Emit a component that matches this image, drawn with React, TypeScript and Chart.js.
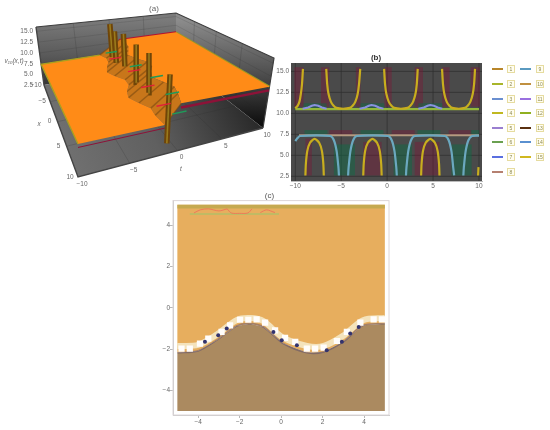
import React, { useEffect, useRef } from "react";
import { Chart, registerables } from "chart.js";

Chart.register(...registerables);

const FONT = "'Liberation Sans', Arial, sans-serif";
const TICK = "#666";

// ---------- panel (a) data ----------
const xRange = [-10, 10];
const tRange = [-10, 10];
const vRange = [2.6, 16];
const vTicks = [2.5, 5, 7.5, 10, 12.5, 15];
const xTicks3 = [-10, -5, 0, 5, 10];
const tTicks3 = [-10, -5, 0, 5, 10];
const lowerPlane = 7.4;
const upperPlane = 10.5;
const ridgeX = [-10, -8.5, -7, -5.5, -4, -2.5, -1, 0.5, 2, 3.5, 5, 6.5, 8, 10];
const ridgeLowT = [-1.8, -1.3, -1.5, -2.2, -2.7, -2.2, -1.4, -1.5, -2.3, -2.7, -2.1, -1.4, -1.6, -1.5];
const ridgeUpT = [1.2, 1.6, 1.4, 0.8, 0.2, 0.7, 1.5, 1.4, 0.6, 0.1, 0.7, 1.2, 0.8, 0.1];
const spikeX = [-8.6, -6.4, -4.8, 0.2, 3.2, 9.4];
const spikeT = [-0.4, -0.6, 0, -0.4, -0.2, -0.9];
const spikeTop = [15.6, 14.9, 15, 15.3, 15.2, 15.2];
const spikeBase = [7.4, 7.4, 7.4, 7.4, 7.4, 3.6];
const markX = [-8, -5, -3, -1, 1, 3, 5, 7, 8.5];
const markT = [-1.5, -2, 0, -1, 1, -1, 1, -1, 0];
const markV = [9, 9.5, 8.5, 9, 8.5, 8.5, 8, 8, 7.5];
const markColor = ["#1f9a5a", "#e0203a", "#1f9a5a", "#e0203a", "#1f9a5a", "#e0203a", "#1f9a5a", "#e0203a", "#1f9a5a"];

// ---------- panel (b) data ----------
const yellowUX = [-10, -9.75, -9.55, -9.4, -9.27, -9.17, null, -6.63, -6.53, -6.38, -6.13, -5.83, -5.53, -4.8, -4.06, -3.76, -3.46, -3.21, -3.06, -2.93, null, -0.33, -0.23, -0.08, 0.17, 0.47, 0.77, 1.5, 2.23, 2.53, 2.83, 3.08, 3.23, 3.33, null, 5.98, 6.08, 6.23, 6.48, 6.78, 7.08, 7.8, 8.47, 8.77, 9.07, 9.32, 9.47, 9.57];
const yellowUY = [10.6, 10.9, 11.4, 12.3, 13.5, 15.3, null, 15.3, 13.5, 12.3, 11.4, 10.9, 10.65, 10.55, 10.65, 10.9, 11.4, 12.3, 13.5, 15.3, null, 15.3, 13.5, 12.3, 11.4, 10.9, 10.65, 10.55, 10.65, 10.9, 11.4, 12.3, 13.5, 15.3, null, 15.3, 13.5, 12.3, 11.4, 10.9, 10.65, 10.55, 10.65, 10.9, 11.4, 12.3, 13.5, 15.3];
const yellowArchX = [-8.9, -8.85, -8.7, -8.4, -7.9, -7.4, -7.1, -6.95, -6.9, null, -2.6, -2.55, -2.4, -2.1, -1.6, -1.1, -0.8, -0.65, -0.6, null, 3.7, 3.75, 3.9, 4.2, 4.7, 5.2, 5.5, 5.65, 5.7, null, 9.9, 9.95];
const yellowArchY = [2.6, 4, 5.5, 6.5, 6.95, 6.5, 5.5, 4, 2.6, null, 2.6, 4, 5.5, 6.5, 6.95, 6.5, 5.5, 4, 2.6, null, 2.6, 4, 5.5, 6.5, 6.95, 6.5, 5.5, 4, 2.6, null, 2.6, 3.6];
const blueX = [-10, -9.8, -9.5, -6.2, -5.8, -5.5, -5.3, -5.25, null, -4.25, -4.2, -4, -3.7, -3.3, 0.1, 0.5, 0.8, 1, 1.05, null, 2.05, 2.1, 2.3, 2.6, 3, 6.3, 6.7, 7, 7.2, 7.3, null, 8.3, 8.35, 8.55, 8.85, 9.25, 10];
const blueY = [6.7, 7, 7.3, 7.3, 6.8, 5.5, 3.5, 2.6, null, 2.6, 3.5, 5.5, 6.8, 7.3, 7.3, 6.8, 5.5, 3.5, 2.6, null, 2.6, 3.5, 5.5, 6.8, 7.3, 7.3, 6.8, 5.5, 3.5, 2.6, null, 2.6, 3.5, 5.5, 6.8, 7.3, 7.35];
const tanX = [-9.6, 10];
const tanY = [7.4, 7.4];
const greenX = [-10, 10];
const greenY = [10.5, 10.5];
const bumpX = [-9.2, -8.6, -8.2, -7.9, -7.5, -7.1, -6.6, null, -3, -2.4, -2, -1.7, -1.3, -0.9, -0.4, null, 3.4, 4, 4.4, 4.7, 5.1, 5.5, 6];
const bumpY = [10.55, 10.7, 10.9, 11, 10.9, 10.7, 10.55, null, 10.55, 10.7, 10.9, 11, 10.9, 10.7, 10.55, null, 10.55, 10.7, 10.9, 11, 10.9, 10.7, 10.55];
// [x0, x1, y0, y1] of the tinted blocks on the dark panel
const redBlocks = [
  [-10.1, -9.1, 10.8, 15.5], [-7.2, -6.3, 10.8, 15.5], [-3.4, -2.9, 10.8, 15.5], [-0.3, 0.5, 10.8, 15.5],
  [3.0, 3.9, 10.8, 15.5], [6.0, 6.8, 10.8, 15.5], [9.1, 10.1, 10.8, 15.5],
  [-6.3, -3.8, 7.4, 8.0], [0.5, 3.0, 7.4, 8.0], [6.7, 9.2, 7.4, 8.0],
  [-8.9, -8.2, 2.6, 7], [-2.6, -0.6, 2.6, 6.6], [3.0, 5.7, 2.6, 6.6],
];
const greenBlocks = [
  [-9.1, -6.6, 10.5, 11.2], [-2.9, -0.3, 10.5, 11.2], [3.4, 6, 10.5, 11.2],
  [-9, -6.5, 7.4, 8.0], [-2.9, -0.4, 7.4, 8.0], [3.3, 5.8, 7.4, 8.0], [9.1, 10, 7.4, 8.0],
  [-5.8, -3.5, 2.6, 6.3], [0.7, 2.7, 2.6, 6.3], [7, 9.2, 2.6, 6.3],
];
const xTicksB = [-10, -5, 0, 5, 10];
const yTicksB = [2.5, 5, 7.5, 10, 12.5, 15];
const legendLabels = ["1", "2", "3", "4", "5", "6", "7", "8", "9", "10", "11", "12", "13", "14", "15"];
const legendColors = ["#b8862a", "#a8b52a", "#6a8fd0", "#c0b820", "#9a7fd0", "#6aa050", "#5a6fe0", "#b58070", "#5a9ac0", "#c09040", "#9a70e0", "#90b020", "#5a3010", "#5a90d0", "#d0b820"];

// ---------- panel (c) data ----------
const edgeX = [-5, -4, -3.1, -2.15, -1.5, -0.85, 0.1, 1.25, 2.05, 3, 3.95, 5];
const edgeY = [-2.18, -2.09, -1.57, -0.88, -0.77, -0.93, -1.73, -2.18, -2.14, -1.65, -0.85, -0.77];
const paleY = [-1.85, -1.8, -1.3, -0.6, -0.5, -0.65, -1.45, -1.85, -1.85, -1.35, -0.6, -0.5];
const squareX = [-4.8, -4.4, -3.91, -3.51, -2.87, -2.46, -1.98, -1.58, -1.18, -0.77, -0.29, 0.19, 0.68, 1.24, 1.64, 2.05, 2.69, 3.17, 3.82, 4.46, 4.86];
const squareY = [-1.98, -1.98, -1.74, -1.5, -1.17, -0.85, -0.58, -0.58, -0.56, -0.72, -1.09, -1.46, -1.65, -1.98, -1.98, -1.93, -1.61, -1.17, -0.72, -0.56, -0.56];
const navyX = [-3.67, -3.03, -2.62, -0.37, 0.03, 0.76, 2.2, 2.93, 3.33, 3.74];
const navyY = [-1.65, -1.33, -1.01, -1.17, -1.57, -1.82, -2.06, -1.65, -1.25, -0.93];
const topLineX = [-4.4, -0.1];
const topLineY = [4.55, 4.55];
const redArcX = [-4.2, -3.9, -3.5, -3, -2.6, null, -2.6, -2.4, -2, -1.6, -1.4, null, -1, -0.7, -0.3];
const redArcY = [4.6, 4.75, 4.8, 4.7, 4.8, null, 4.8, 4.6, 4.58, 4.6, 4.8, null, 4.62, 4.75, 4.62];
const cTicks = [-4, -2, 0, 2, 4];

// ---------- helpers ----------
function quad(q: number[][]) {
  const [[x0, y0], [x1, y1], [x2, y2], [x3, y3]] = q;
  const dx1 = x1 - x2, dx2 = x3 - x2, sx = x0 - x1 + x2 - x3;
  const dy1 = y1 - y2, dy2 = y3 - y2, sy = y0 - y1 + y2 - y3;
  const den = dx1 * dy2 - dx2 * dy1;
  const g = (sx * dy2 - dx2 * sy) / den;
  const h = (dx1 * sy - sx * dy1) / den;
  const a = x1 - x0 + g * x1, b = x3 - x0 + h * x3;
  const d = y1 - y0 + g * y1, e = y3 - y0 + h * y3;
  return (u: number, w: number) => {
    const z = g * u + h * w + 1;
    return [(a * u + b * w + x0) / z, (d * u + e * w + y0) / z];
  };
}
const floorQ = quad([[44, 85], [78, 177], [263, 128], [176, 60]]);
const roofQ = quad([[36, 27], [78, 85], [274, 58], [176, 13]]);
function project(x: number, t: number, v: number) {
  const u = (x - xRange[0]) / (xRange[1] - xRange[0]);
  const w = (t - tRange[0]) / (tRange[1] - tRange[0]);
  const f = (v - vRange[0]) / (vRange[1] - vRange[0]);
  const a = floorQ(u, w), b = roofQ(u, w);
  return { x: a[0] + (b[0] - a[0]) * f, y: a[1] + (b[1] - a[1]) * f };
}
const zip = (xs: (number | null)[], ys: (number | null)[]) =>
  xs.map((x, i) => ({ x: x === null ? NaN : x, y: ys[i] === null ? NaN : ys[i] }));
const shape = (data: any[], color: any) => ({
  type: "scatter", data, showLine: true, fill: "shape", backgroundColor: color,
  borderWidth: 0, pointRadius: 0, tension: 0,
});
const line = (data: any[], color: string, width: number, extra: any = {}) => ({
  type: "scatter", data, showLine: true, fill: false, borderColor: color,
  borderWidth: width, pointRadius: 0, tension: 0, ...extra,
});
const gradient = (stops: string[], x0: number, y0: number, x1: number, y1: number) => (c: any) => {
  const g = c.chart.ctx.createLinearGradient(x0, y0, x1, y1);
  stops.forEach((s, i) => g.addColorStop(i / (stops.length - 1), s));
  return g;
};
// Chart.js paints dataset 0 last, so the painter's list is handed over reversed.
const painted = (ds: any[]) => ds.slice().reverse();

function panelA() {
  const [x0, x1] = xRange, [t0, t1] = tRange, [v0, v1] = vRange;
  const ds: any[] = [];
  ds.push(shape([project(x0, t0, v0), project(x0, t1, v0), project(x0, t1, v1), project(x0, t0, v1)], gradient(["#7a7a7a", "#5a5a5a", "#2f2f2f"], 0, 20, 0, 90)));
  ds.push(shape([project(x0, t1, v0), project(x1, t1, v0), project(x1, t1, v1), project(x0, t1, v1)], gradient(["#8c8c8c", "#505050", "#0d0d0d"], 0, 20, 0, 125)));
  ds.push(shape([project(x0, t0, v0), project(x1, t0, v0), project(x1, t1, v0), project(x0, t1, v0)], gradient(["#727272", "#606060", "#2b2b2b"], 60, 170, 240, 90)));
  const grid = "rgba(40,40,40,0.28)";
  [-5, 0, 5].forEach((k) => {
    ds.push(line([project(x0, k, v0), project(x0, k, v1)], grid, 0.7));
    ds.push(line([project(k, t1, v0), project(k, t1, v1)], grid, 0.7));
    ds.push(line([project(k, t0, v0), project(k, t1, v0)], grid, 0.7));
    ds.push(line([project(x0, k, v0), project(x1, k, v0)], grid, 0.7));
  });
  vTicks.slice(1).forEach((v) => {
    ds.push(line([project(x0, t0, v), project(x0, t1, v), project(x1, t1, v)], grid, 0.5));
  });
  ds.push(line([project(x0, t0, v1), project(x0, t1, v1), project(x1, t1, v1), project(x1, t1, v0)], "#3d3d3d", 1.2));
  ds.push(line([project(x0, t0, v1), project(x0, t0, v0), project(x1, t0, v0), project(x1, t1, v0)], "#444", 1.4));

  const ridgeUp = ridgeX.map((x, i) => project(x, ridgeUpT[i], upperPlane));
  const ridgeLow = ridgeX.map((x, i) => project(x, ridgeLowT[i], lowerPlane));
  const lastUp = ridgeUpT[ridgeUpT.length - 1];
  const lastLow = ridgeLowT[ridgeLowT.length - 1];
  // upper plane and its crimson underside
  ds.push(line([project(x1, lastUp, upperPlane - 0.7), project(x1, t1, upperPlane - 0.7)], "#8d1238", 2.4));
  ds.push(line([project(x0, t1, upperPlane), project(x1, t1, upperPlane)], "#9c9a22", 2));
  ds.push(line([project(x0, ridgeUpT[0], upperPlane), project(x0, t1, upperPlane)], "#b5122f", 2));
  ds.push(shape([...ridgeUp, project(x1, t1, upperPlane), project(x0, t1, upperPlane)], "#ff8b17"));
  // slope between planes, with its dark hatching
  ds.push(shape([...ridgeUp, ...[...ridgeLow].reverse()], "#c8761a"));
  ridgeX.forEach((_, i) => ds.push(line([ridgeLow[i], ridgeUp[i]], "rgba(122,74,16,0.6)", 1.4)));
  // lower plane and its olive rim
  ds.push(shape([project(x0, t0, lowerPlane), project(x1, t0, lowerPlane), ...[...ridgeLow].reverse()], "#ff8b17"));
  ds.push(line([project(x0, ridgeLowT[0], lowerPlane), project(x0, t0, lowerPlane), project(x1, t0, lowerPlane)], "#a9a020", 1.4));
  ds.push(line([project(x1, t0, lowerPlane - 0.5), project(x1, lastLow, lowerPlane - 0.5)], "#8d1238", 1));
  // spikes
  spikeX.forEach((x, i) => {
    const a = project(x, spikeT[i], spikeBase[i]), b = project(x, spikeT[i], spikeTop[i]);
    ds.push(line([a, b], "#6f4508", 5.5));
    ds.push(line([a, b], "#9a7a1c", 1.6));
  });
  // chroma marks
  markX.forEach((x, i) => {
    ds.push(line([project(x, markT[i], markV[i]), project(x, markT[i] + 1.6, markV[i])], markColor[i], 1.4));
  });
  const labels = {
    id: "labelsA",
    afterDatasetsDraw(chart: any) {
      const c = chart.ctx;
      c.save();
      c.fillStyle = TICK;
      c.font = `6.5px ${FONT}`;
      c.textBaseline = "middle";
      c.textAlign = "right";
      vTicks.forEach((v) => {
        const p = project(x0, t0, v);
        c.fillText(v.toFixed(1), 33, p.y);
      });
      c.textAlign = "center";
      xTicks3.forEach((x) => {
        const p = project(x, t0, v0);
        c.fillText(String(x).replace("-", "\u2212"), p.x - 8, p.y + 0);
      });
      tTicks3.forEach((t) => {
        const p = project(x1, t, v0);
        c.fillText(String(t).replace("-", "\u2212"), p.x + 4, p.y + 7);
      });
      c.font = `italic 6.5px ${FONT}`;
      c.fillText("x", 39, 124);
      c.fillText("t", 181, 169);
      c.fillText("v\u2081\u2080(x,t)", 14, 61);
      c.font = `8px ${FONT}`;
      c.fillText("(a)", 154, 9);
      c.restore();
    },
  };
  return {
    data: { datasets: painted(ds) },
    options: {
      animation: false, responsive: false, maintainAspectRatio: false,
      layout: { padding: 0 },
      plugins: { legend: { display: false }, tooltip: { enabled: false }, title: { display: false } },
      scales: {
        x: { type: "linear", display: false, min: 0, max: 290 },
        y: { type: "linear", display: false, min: 0, max: 190, reverse: true },
      },
    },
    plugins: [labels],
  };
}

const block = (b: number[]) => [{ x: b[0], y: b[2] }, { x: b[1], y: b[2] }, { x: b[1], y: b[3] }, { x: b[0], y: b[3] }];
const fixTicks = (vals: number[]) => (s: any) => { s.ticks = vals.map((value) => ({ value })); };

function panelB() {
  const ds: any[] = [];
  redBlocks.forEach((b) => ds.push(shape(block(b), "rgba(125,25,55,0.42)")));
  greenBlocks.forEach((b) => ds.push(shape(block(b), "rgba(15,105,70,0.5)")));
  ds.push(line(zip(greenX, greenY), "#93b83a", 2.2));
  ds.push(line(zip(bumpX, bumpY), "#8a90e0", 2));
  ds.push(line(zip(tanX, tanY), "#b59a80", 2));
  ds.push(line(zip(blueX, blueY), "#6ba8bf", 2.2, { tension: 0.25 }));
  ds.push(line(zip(yellowUX, yellowUY), "#c8ae1e", 2.2, { tension: 0.25 }));
  ds.push(line(zip(yellowArchX, yellowArchY), "#c8ae1e", 2.2, { tension: 0.25 }));
  const bg = {
    id: "bgB",
    beforeDatasetsDraw(chart: any) {
      const { ctx, chartArea: a, scales } = chart;
      ctx.save();
      ctx.fillStyle = "#4a4a4a";
      ctx.fillRect(a.left, a.top, a.width, a.height);
      ctx.strokeStyle = "#2e2e2e";
      ctx.lineWidth = 0.7;
      xTicksB.forEach((v) => { const p = scales.x.getPixelForValue(v); ctx.beginPath(); ctx.moveTo(p, a.top); ctx.lineTo(p, a.bottom); ctx.stroke(); });
      yTicksB.forEach((v) => { const p = scales.y.getPixelForValue(v); ctx.beginPath(); ctx.moveTo(a.left, p); ctx.lineTo(a.right, p); ctx.stroke(); });
      ctx.restore();
    },
  };
  return {
    data: { datasets: painted(ds) },
    options: {
      animation: false, responsive: false, maintainAspectRatio: false,
      layout: { padding: { right: 6, top: 0, left: 0, bottom: 0 } },
      plugins: {
        legend: { display: false }, tooltip: { enabled: false },
        title: { display: true, text: "(b)", color: "#333", font: { family: FONT, size: 8, weight: "bold", lineHeight: 1.2 }, padding: { top: 0, bottom: 0.4 } },
      },
      scales: {
        x: {
          type: "linear", min: -10.47, max: 10.33, afterBuildTicks: fixTicks(xTicksB),
          grid: { display: false, tickLength: 0, drawTicks: false }, border: { color: "#bbb" },
          ticks: { color: TICK, font: { family: FONT, size: 6.5 }, padding: 1, maxRotation: 0, callback: (v: number) => String(v).replace("-", "\u2212") },
          afterFit: (s: any) => { s.height = 14; },
        },
        y: {
          type: "linear", min: 1.94, max: 16, afterBuildTicks: fixTicks(yTicksB),
          grid: { display: false, tickLength: 0, drawTicks: false }, border: { color: "#bbb" },
          ticks: { color: TICK, font: { family: FONT, size: 6.5 }, padding: 2, callback: (v: number) => v.toFixed(1) },
          afterFit: (s: any) => { s.width = 21; },
        },
      },
    },
    plugins: [bg],
  };
}

function panelC() {
  const edge = zip(edgeX, edgeY);
  const pale = zip(edgeX, paleY);
  const ds: any[] = [];
  ds.push(shape([{ x: -5, y: 5 }, { x: 5, y: 5 }, ...[...edge].reverse()], "#e7ae5e"));
  ds.push(shape([{ x: -5, y: 5 }, { x: 5, y: 5 }, { x: 5, y: 4.82 }, { x: -5, y: 4.82 }], "#c5a950"));
  ds.push(line(pale, "rgba(246,236,205,0.85)", 6, { tension: 0.3 }));
  ds.push(shape([...edge, { x: 5, y: -5 }, { x: -5, y: -5 }], "#ab8a60"));
  ds.push(line(edge, "rgba(70,60,110,0.4)", 1.6, { tension: 0.3 }));
  ds.push({ type: "scatter", data: zip(squareX, squareY), pointStyle: "rect", pointRadius: 4.4, backgroundColor: "#fffdfb", borderWidth: 0, showLine: false });
  ds.push({ type: "scatter", data: zip(navyX, navyY), pointStyle: "circle", pointRadius: 2, backgroundColor: "#33336e", borderWidth: 0, showLine: false });
  ds.push(line(zip(topLineX, topLineY), "#9ac66a", 1.2));
  ds.push(line(zip(redArcX, redArcY), "#ef7a5a", 1, { tension: 0.3 }));
  const frame = {
    id: "frameC",
    afterDatasetsDraw(chart: any) {
      const { ctx, chartArea: a } = chart;
      ctx.save();
      ctx.strokeStyle = "#dcd6d8";
      ctx.lineWidth = 1;
      ctx.strokeRect(a.left, a.top, a.width, a.height);
      ctx.restore();
    },
  };
  const axisGrid = { display: true, drawOnChartArea: false, drawTicks: true, tickLength: 3, color: "#b8b8b8" };
  return {
    data: { datasets: painted(ds) },
    options: {
      animation: false, responsive: false, maintainAspectRatio: false,
      layout: { padding: { right: 6, top: 0, left: 0, bottom: 0 } },
      plugins: {
        legend: { display: false }, tooltip: { enabled: false },
        title: { display: true, text: "(c)", color: "#555", font: { family: FONT, size: 8, weight: "normal", lineHeight: 1.2 }, padding: { top: 0, bottom: 0 } },
      },
      scales: {
        x: {
          type: "linear", min: -5.21, max: 5.2, afterBuildTicks: fixTicks(cTicks),
          grid: axisGrid, border: { color: "#c8c8c8" },
          ticks: { color: TICK, font: { family: FONT, size: 6.5 }, padding: 0, maxRotation: 0, callback: (v: number) => String(v).replace("-", "\u2212") },
          afterFit: (s: any) => { s.height = 15; },
        },
        y: {
          type: "linear", min: -5.2, max: 5.2, afterBuildTicks: fixTicks(cTicks),
          grid: axisGrid, border: { color: "#c8c8c8" },
          ticks: { color: TICK, font: { family: FONT, size: 6.5 }, padding: 0, callback: (v: number) => String(v).replace("-", "\u2212") },
          afterFit: (s: any) => { s.width = 23; },
        },
      },
    },
    plugins: [frame],
  };
}

function Panel({ make, style, w, h }: any) {
  const ref = useRef<HTMLCanvasElement>(null);
  useEffect(() => {
    const cfg = make();
    const ch = new Chart(ref.current as any, { type: "scatter", ...cfg });
    return () => ch.destroy();
  }, []);
  return <canvas ref={ref} width={w} height={h} style={{ position: "absolute", display: "block", width: w, height: h, ...style }} />;
}

const legendRows = [69, 84, 99, 113, 128, 142, 157, 172];

function Legend() {
  return (
    <>
      {legendLabels.map((lab, i) => {
        const col = i < 8 ? 0 : 1;
        const row = i < 8 ? i : i - 8;
        const top = legendRows[row];
        const swatch = col === 0 ? 492 : 520;
        const box = col === 0 ? 507 : 536;
        return (
          <React.Fragment key={lab}>
            <div style={{ position: "absolute", left: swatch, top: top - 1, width: 11, height: 2, background: legendColors[i] }} />
            <div style={{ position: "absolute", left: box, top: top - 4, width: 8, height: 8, boxSizing: "border-box", border: "0.5px solid #e6dca0", background: "#fffdf0", color: "#8f8a50", font: `5px ${FONT}`, lineHeight: "7px", textAlign: "center" }}>{lab}</div>
          </React.Fragment>
        );
      })}
    </>
  );
}

export default function App() {
  return (
    <div style={{ position: "fixed", left: 0, top: 0, width: 550, height: 430, background: "#fff", overflow: "hidden" }}>
      <Panel make={panelA} w={290} h={190} style={{ left: 0, top: 0 }} />
      <Panel make={panelB} w={218} h={142} style={{ left: 270, top: 53 }} />
      <Panel make={panelC} w={245} h={239} style={{ left: 150, top: 191 }} />
      <Legend />
    </div>
  );
}
